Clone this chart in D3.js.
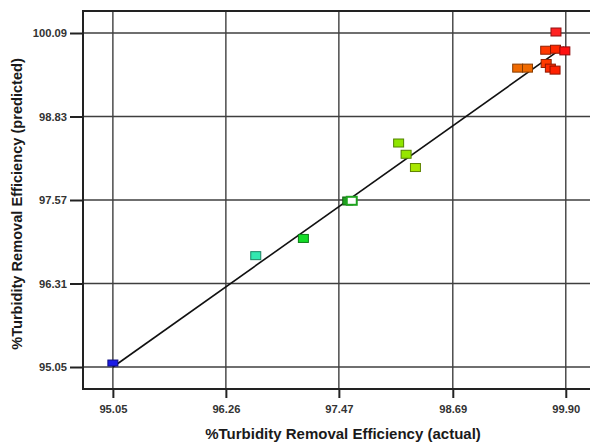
<!DOCTYPE html>
<html>
<head>
<meta charset="utf-8">
<script src="https://cdn.jsdelivr.net/npm/d3@7"></script>
<style>
  html, body { margin: 0; padding: 0; background: #fff; }
  svg { display: block; }
  text { font-family: "Liberation Sans", Arial, sans-serif; }
</style>
</head>
<body>
<svg id="chart" width="590" height="443"></svg>
<script>
// Actual vs. predicted turbidity removal efficiency (%)
const actual = [95.05, 96.58, 97.09, 97.565, 97.608, 98.11, 98.19, 98.29,
                99.385, 99.49, 99.69, 99.735, 99.785, 99.685, 99.79, 99.89, 99.795];
const predicted = [95.11, 96.73, 96.99, 97.555, 97.558, 98.43, 98.26, 98.06,
                   99.56, 99.56, 99.63, 99.56, 99.53, 99.83, 99.845, 99.82, 100.105];
const pointColors = ["#1a1ae6", "#33e8b0", "#14dc28", "#1fa31f", "#1fa31f",
                     "#8fe600", "#96e600", "#a8e600",
                     "#f06a00", "#f06a00", "#ff3a00", "#ff2a00", "#ff2000",
                     "#ff3800", "#ff2800", "#ff1010", "#ff2222"];
const hollow = [false, false, false, false, true, false, false, false,
                false, false, false, false, false, false, false, false, false];
const xTicks = [95.05, 96.26, 97.47, 98.69, 99.90];
const yTicks = [95.05, 96.31, 97.57, 98.83, 100.09];
const xTickLabels = ["95.05", "96.26", "97.47", "98.69", "99.90"];
const yTickLabels = ["95.05", "96.31", "97.57", "98.83", "100.09"];
const fitLine = [95.05, 99.88];

const svg = d3.select("#chart");
const plotLeft = 83, plotRight = 591, plotTop = 11, plotBottom = 389;

const x = d3.scaleLinear().domain([94.73, 100.17]).range([plotLeft, plotRight]);
const y = d3.scaleLinear().domain([94.718, 100.422]).range([plotBottom, plotTop]);

// grid
const grid = svg.append("g").attr("stroke", "#3f3f3f").attr("stroke-width", 1.4);
grid.selectAll("line.vx").data(xTicks).join("line")
  .attr("x1", d => x(d)).attr("x2", d => x(d))
  .attr("y1", plotTop).attr("y2", plotBottom);
grid.selectAll("line.hy").data(yTicks).join("line")
  .attr("x1", plotLeft).attr("x2", plotRight)
  .attr("y1", d => y(d)).attr("y2", d => y(d));

// axes
const xAxis = d3.axisBottom(x).tickValues(xTicks)
  .tickFormat((d, i) => xTickLabels[i]).tickSize(9).tickPadding(7);
const yAxis = d3.axisLeft(y).tickValues(yTicks)
  .tickFormat((d, i) => yTickLabels[i]).tickSize(13).tickPadding(3);

const gx = svg.append("g").attr("transform", `translate(0,${plotBottom})`).call(xAxis);
const gy = svg.append("g").attr("transform", `translate(${plotLeft},0)`).call(yAxis);
[gx, gy].forEach(g => {
  g.select(".domain").remove();
  g.selectAll(".tick line").attr("stroke", "#222").attr("stroke-width", 2);
  g.selectAll(".tick text").attr("fill", "#333")
    .attr("font-size", 11.2).attr("font-weight", "bold")
    .attr("font-family", "Liberation Sans, Arial, sans-serif");
});

// frame
svg.append("rect")
  .attr("x", plotLeft).attr("y", plotTop)
  .attr("width", plotRight - plotLeft).attr("height", plotBottom - plotTop)
  .attr("fill", "none").attr("stroke", "#222").attr("stroke-width", 2);

// y = x reference line
svg.append("line")
  .attr("x1", x(fitLine[0])).attr("y1", y(fitLine[0]))
  .attr("x2", x(fitLine[1])).attr("y2", y(fitLine[1]))
  .attr("stroke", "#111").attr("stroke-width", 1.6);

// points
const pts = actual.map((a, i) => ({ a, p: predicted[i], c: pointColors[i], h: hollow[i], i }));
const w = 10, h = 8;
svg.append("g").selectAll("rect").data(pts).join("rect")
  .attr("x", d => x(d.a) - w / 2)
  .attr("y", d => y(d.p) - (d.i === 0 ? 3 : h / 2))
  .attr("width", w)
  .attr("height", d => d.i === 0 ? 6 : h)
  .attr("fill", d => d.h ? "#fff" : d.c)
  .attr("stroke", d => d.h ? d.c : d3.color(d.c).darker(1.6))
  .attr("stroke-width", d => d.h ? 2 : 1);

// axis titles
svg.append("text")
  .attr("x", 343).attr("y", 439)
  .attr("text-anchor", "middle")
  .attr("font-size", 15).attr("font-weight", "bold").attr("fill", "#1a1a1a")
  .text("%Turbidity Removal Efficiency (actual)");

svg.append("text")
  .attr("transform", "translate(22,204) rotate(-90)")
  .attr("text-anchor", "middle")
  .attr("font-size", 14.6).attr("font-weight", "bold").attr("fill", "#1a1a1a")
  .text("%Turbidity Removal Efficiency (predicted)");
</script>
</body>
</html>
